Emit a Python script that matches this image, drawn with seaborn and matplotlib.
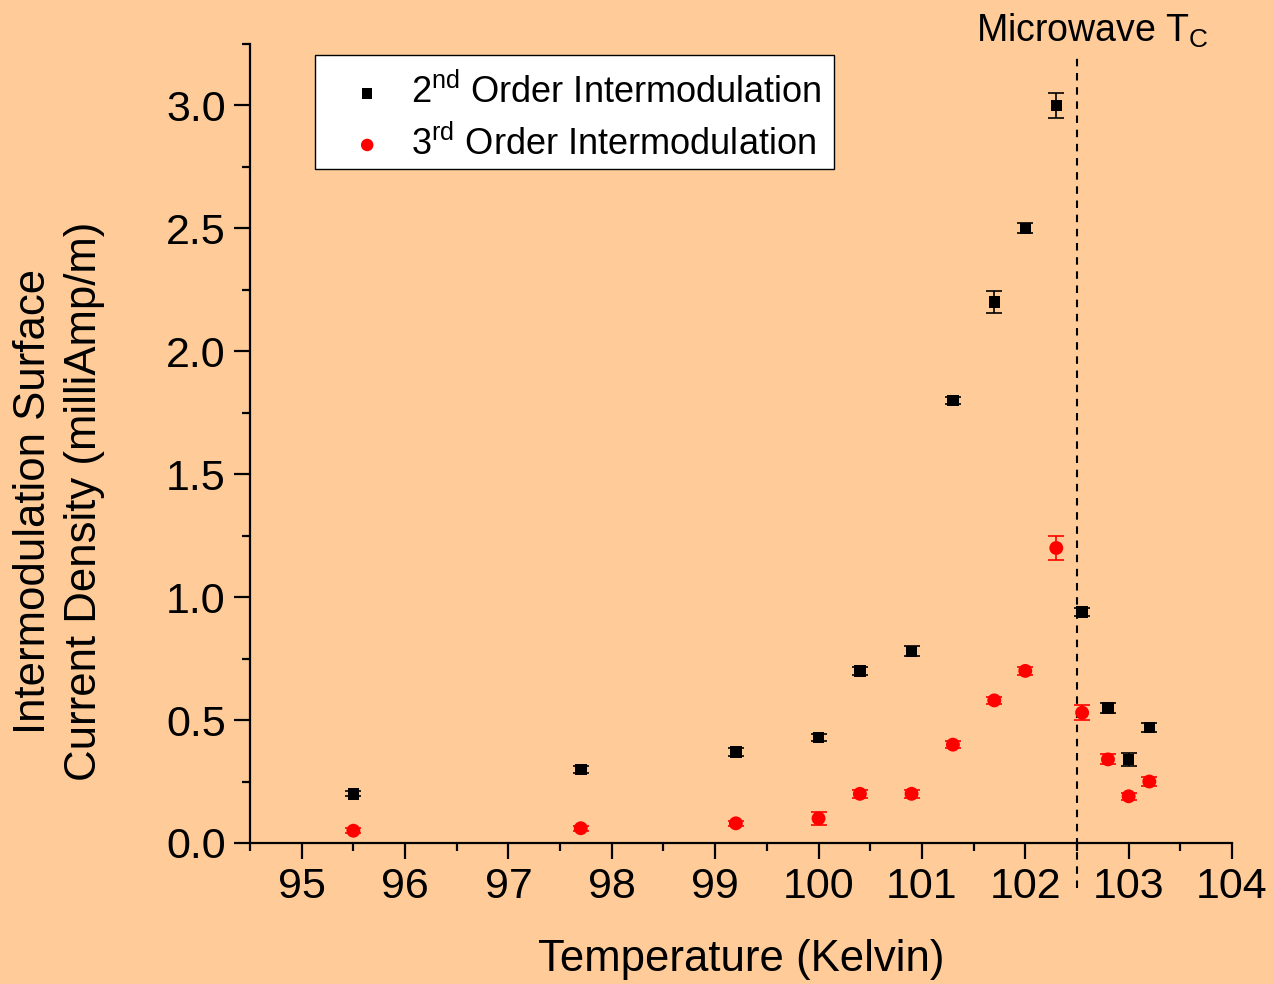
import matplotlib
matplotlib.use("Agg")
import matplotlib.pyplot as plt
from matplotlib.ticker import MultipleLocator, FormatStrFormatter
import seaborn as sns
import pandas as pd

# Temperatures (K) at which the intermodulation was measured
temperature = [95.5, 97.7, 99.2, 100.0, 100.4, 100.9, 101.3, 101.7, 102.0,
               102.3, 102.55, 102.8, 103.0, 103.2]

# 2nd order intermodulation surface current density (milliAmp/m) and error
second_order = [0.20, 0.30, 0.37, 0.43, 0.70, 0.78, 1.80, 2.20, 2.50,
                3.00, 0.94, 0.55, 0.34, 0.47]
second_err = [0.010, 0.015, 0.015, 0.015, 0.015, 0.020, 0.015, 0.045, 0.020,
              0.050, 0.015, 0.020, 0.025, 0.020]

# 3rd order intermodulation surface current density (milliAmp/m) and error
third_order = [0.05, 0.06, 0.08, 0.10, 0.20, 0.20, 0.40, 0.58, 0.70,
               1.20, 0.53, 0.34, 0.19, 0.25]
third_err = [0.010, 0.010, 0.010, 0.027, 0.015, 0.015, 0.015, 0.015, 0.015,
             0.050, 0.031, 0.020, 0.015, 0.020]

microwave_tc = 102.5

series_labels = [r"2$^{\mathrm{nd}}$ Order Intermodulation",
                 r"3$^{\mathrm{rd}}$ Order Intermodulation"]

bg = "#FFCC99"

sns.set_theme(style="ticks")
plt.rcParams["font.family"] = ["Liberation Sans", "DejaVu Sans"]
plt.rcParams["mathtext.fontset"] = "custom"
plt.rcParams["mathtext.rm"] = "Liberation Sans"
plt.rcParams["mathtext.it"] = "Liberation Sans:italic"
plt.rcParams["mathtext.bf"] = "Liberation Sans:bold"
plt.rcParams["text.color"] = "black"
plt.rcParams["axes.labelcolor"] = "black"
plt.rcParams["xtick.color"] = "black"
plt.rcParams["ytick.color"] = "black"

df2 = pd.DataFrame({"T": temperature, "J": second_order, "err": second_err})
df3 = pd.DataFrame({"T": temperature, "J": third_order, "err": third_err})

fig = plt.figure(figsize=(12.73, 9.84), dpi=100, facecolor=bg)
ax = fig.add_axes([0.1964, 0.1433, 0.7714, 0.8120])
ax.set_facecolor(bg)

# error bars
ax.errorbar(df2["T"], df2["J"], yerr=df2["err"], fmt="none", ecolor="black",
            elinewidth=1.2, capsize=6, capthick=1.2, zorder=2)
ax.errorbar(df3["T"], df3["J"], yerr=df3["err"], fmt="none", ecolor="red",
            elinewidth=1.2, capsize=6, capthick=1.2, zorder=2)

# data points
sns.scatterplot(data=df2, x="T", y="J", marker="s", s=68, color="black",
                edgecolor="none", label=series_labels[0], ax=ax, zorder=3)
sns.scatterplot(data=df3, x="T", y="J", marker="o", s=100, color="red",
                edgecolor="none", label=series_labels[1], ax=ax, zorder=3)

# microwave critical temperature
ax.axvline(microwave_tc, ymin=-0.056, ymax=0.985, color="black",
           linestyle=(0, (3.6, 3.2)), linewidth=1.5, clip_on=False, zorder=1)
fig.text(0.858, 0.969, r"Microwave T$_{\mathrm{C}}$", fontsize=27,
         ha="center", va="center")

ax.set_xlim(94.5, 104)
ax.set_ylim(0, 3.25)
ax.xaxis.set_major_locator(MultipleLocator(1))
ax.xaxis.set_minor_locator(MultipleLocator(0.5))
ax.yaxis.set_major_locator(MultipleLocator(0.5))
ax.yaxis.set_minor_locator(MultipleLocator(0.25))
ax.yaxis.set_major_formatter(FormatStrFormatter("%.1f"))

for side in ["top", "right"]:
    ax.spines[side].set_visible(False)
for side in ["left", "bottom"]:
    ax.spines[side].set_linewidth(1.6)
    ax.spines[side].set_color("black")

ax.tick_params(which="major", direction="out", length=11.5, width=1.6,
               labelsize=31, colors="black", pad=6)
ax.tick_params(which="minor", direction="out", length=6, width=1.6,
               colors="black")

ax.set_xlabel("Temperature (Kelvin)", fontsize=31.5, labelpad=23)
ax.set_ylabel("Intermodulation Surface\nCurrent Density (milliAmp/m)",
              fontsize=31.5, linespacing=1.3)
ax.yaxis.set_label_coords(-0.148, 0.428)

leg = ax.legend(loc="upper left", bbox_to_anchor=(0.066, 0.986),
                borderaxespad=0, fontsize=26, frameon=True, fancybox=False,
                framealpha=1, edgecolor="black", facecolor="white",
                handletextpad=0.1, labelspacing=0.4, borderpad=0.35,
                handlelength=2.2, markerscale=0.9)
leg.get_frame().set_linewidth(1.0)

# nudge legend rows down a little inside the frame
shift_px = 6
for t in leg.get_texts():
    x0, y0 = t.get_position()
    t.set_position((x0, y0 - shift_px))
for h in leg.legend_handles:
    offs = h.get_offsets().copy()
    offs[:, 1] -= shift_px * 72 / fig.dpi
    h.set_offsets(offs)

fig.savefig("out.png", dpi=100, facecolor=bg)
